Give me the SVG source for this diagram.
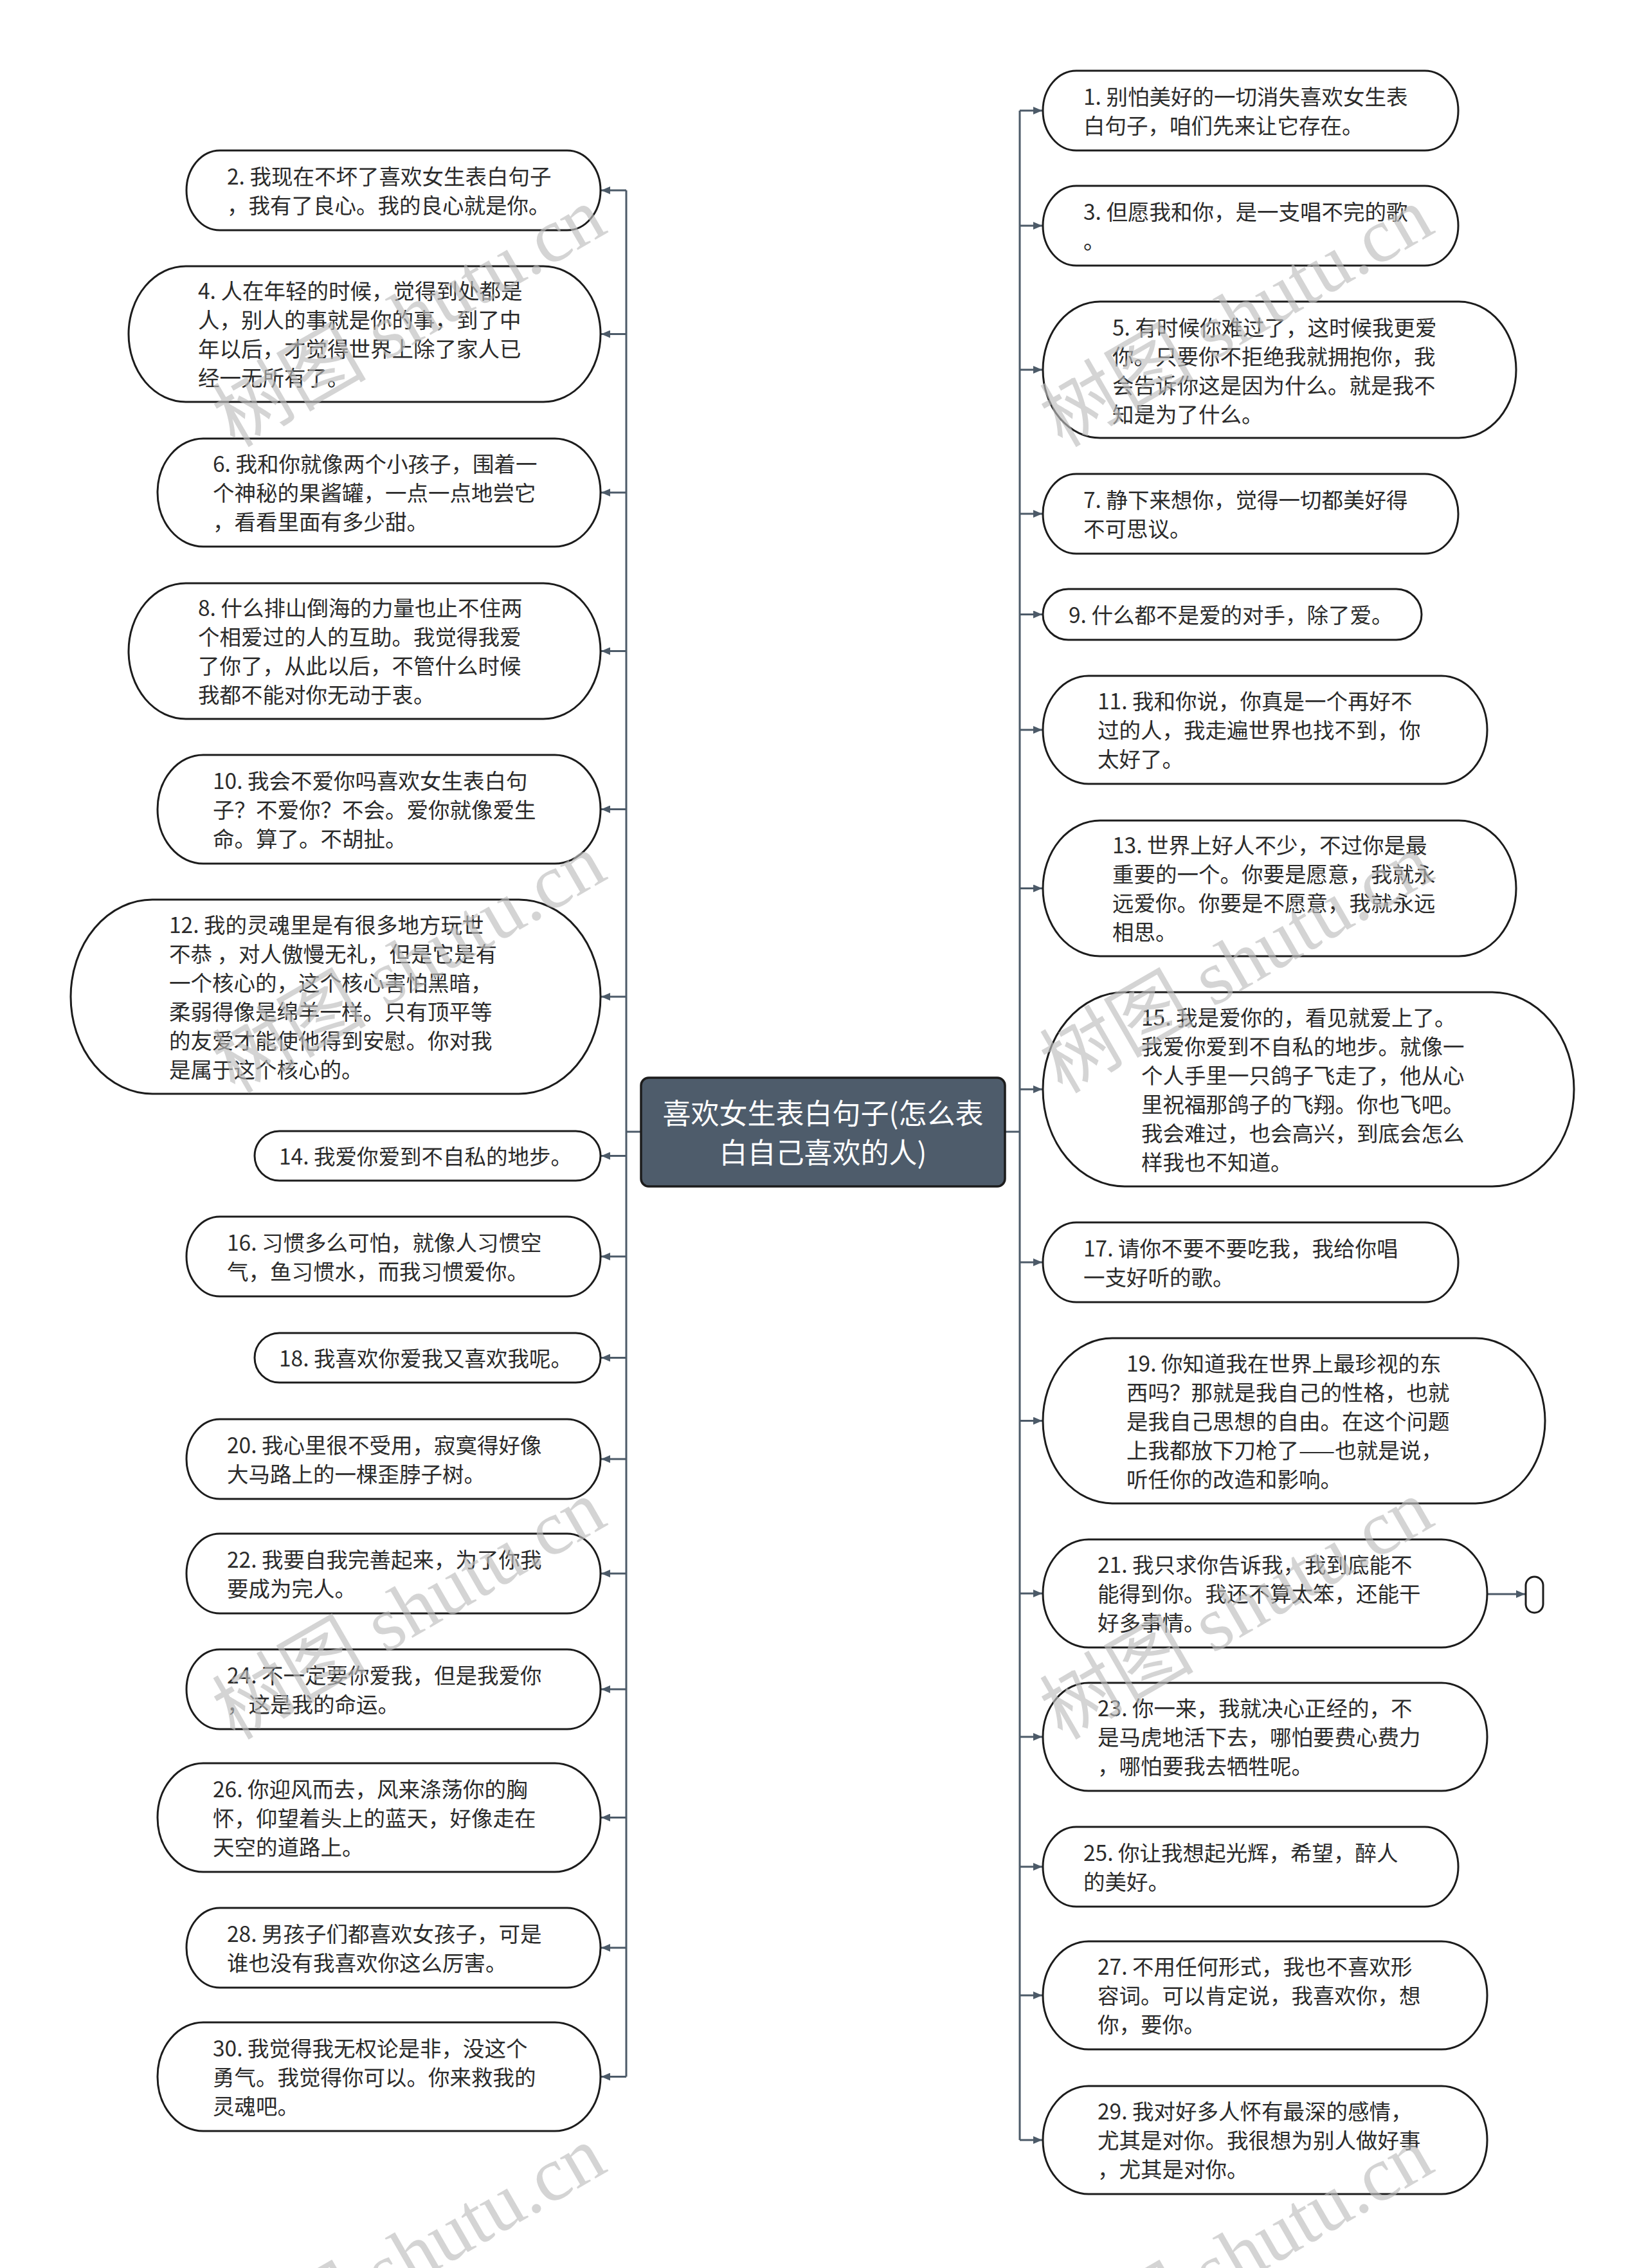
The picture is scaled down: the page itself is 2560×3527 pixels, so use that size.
<svg xmlns="http://www.w3.org/2000/svg" width="2560" height="3527" viewBox="0 0 2560 3527">
<style>
.node{fill:#ffffff;stroke:#1c1c1c;stroke-width:3}
.root{fill:#4e5c6b;stroke:#1c1c1c;stroke-width:3.5}
.t{font-family:"Noto Sans CJK SC","Noto Sans",sans-serif;font-size:33.5px;fill:#2b2b2b}
.rt{font-family:"Noto Sans CJK SC","Noto Sans",sans-serif;font-size:44px;fill:#ffffff;text-anchor:middle}
.c{stroke:#4c5a68;stroke-width:3;fill:none}
.a{stroke:#4c5a68;stroke-width:3;fill:none;marker-end:url(#arr)}
.wm{font-family:"Liberation Serif","Noto Sans CJK SC",serif;font-size:120px;fill:#bdbdbd;fill-opacity:0.65;text-anchor:end}
</style>
<defs>
<marker id="arr" markerUnits="userSpaceOnUse" markerWidth="14" markerHeight="12" refX="14" refY="6" orient="auto">
<path d="M0,0 L14,6 L0,12 z" fill="#4c5a68"/>
</marker>
</defs>
<rect x="0" y="0" width="2560" height="3527" fill="#ffffff"/>

<g id="connectors">
<line class="c" x1="997" y1="1760" x2="974" y2="1760"/>
<line class="c" x1="974" y1="296" x2="974" y2="3229.5"/>
<line class="a" x1="974" y1="296" x2="935" y2="296"/>
<line class="a" x1="974" y1="519.5" x2="935" y2="519.5"/>
<line class="a" x1="974" y1="766" x2="935" y2="766"/>
<line class="a" x1="974" y1="1012.5" x2="935" y2="1012.5"/>
<line class="a" x1="974" y1="1258.5" x2="935" y2="1258.5"/>
<line class="a" x1="974" y1="1550" x2="935" y2="1550"/>
<line class="a" x1="974" y1="1797.5" x2="935" y2="1797.5"/>
<line class="a" x1="974" y1="1954" x2="935" y2="1954"/>
<line class="a" x1="974" y1="2111.5" x2="935" y2="2111.5"/>
<line class="a" x1="974" y1="2269" x2="935" y2="2269"/>
<line class="a" x1="974" y1="2447" x2="935" y2="2447"/>
<line class="a" x1="974" y1="2627" x2="935" y2="2627"/>
<line class="a" x1="974" y1="2826.5" x2="935" y2="2826.5"/>
<line class="a" x1="974" y1="3029" x2="935" y2="3029"/>
<line class="a" x1="974" y1="3229.5" x2="935" y2="3229.5"/>
<line class="c" x1="1563" y1="1760" x2="1586" y2="1760"/>
<line class="c" x1="1586" y1="172" x2="1586" y2="3328"/>
<line class="a" x1="1586" y1="172" x2="1621" y2="172"/>
<line class="a" x1="1586" y1="351" x2="1621" y2="351"/>
<line class="a" x1="1586" y1="575" x2="1621" y2="575"/>
<line class="a" x1="1586" y1="799" x2="1621" y2="799"/>
<line class="a" x1="1586" y1="955.5" x2="1621" y2="955.5"/>
<line class="a" x1="1586" y1="1135" x2="1621" y2="1135"/>
<line class="a" x1="1586" y1="1381.5" x2="1621" y2="1381.5"/>
<line class="a" x1="1586" y1="1694" x2="1621" y2="1694"/>
<line class="a" x1="1586" y1="1963" x2="1621" y2="1963"/>
<line class="a" x1="1586" y1="2209.5" x2="1621" y2="2209.5"/>
<line class="a" x1="1586" y1="2478" x2="1621" y2="2478"/>
<line class="a" x1="1586" y1="2701" x2="1621" y2="2701"/>
<line class="a" x1="1586" y1="2903" x2="1621" y2="2903"/>
<line class="a" x1="1586" y1="3103" x2="1621" y2="3103"/>
<line class="a" x1="1586" y1="3328" x2="1621" y2="3328"/>
<line class="a" x1="2313" y1="2479" x2="2372" y2="2479"/>
</g>

<g id="root">
<rect class="root" x="997" y="1676" width="566" height="169" rx="12" ry="12"/>
<text class="rt"><tspan x="1280" y="1748">喜欢女生表白句子(怎么表</tspan><tspan x="1280" y="1809">白自己喜欢的人)</tspan></text>
</g>

<g id="n2"><rect class="node" x="290" y="234" width="644" height="124" rx="52" ry="62"/>
<text class="t"><tspan x="353" y="286.5">2. 我现在不坏了喜欢女生表白句子</tspan><tspan x="353" y="331.5">，我有了良心。我的良心就是你。</tspan></text></g>
<g id="n4"><rect class="node" x="200" y="414" width="734" height="211" rx="89" ry="105.5"/>
<text class="t"><tspan x="308" y="465">4. 人在年轻的时候，觉得到处都是</tspan><tspan x="308" y="510">人，别人的事就是你的事，到了中</tspan><tspan x="308" y="555">年以后，才觉得世界上除了家人已</tspan><tspan x="308" y="600">经一无所有了。</tspan></text></g>
<g id="n6"><rect class="node" x="245" y="682" width="689" height="168" rx="71" ry="84"/>
<text class="t"><tspan x="331" y="734">6. 我和你就像两个小孩子，围着一</tspan><tspan x="331" y="779">个神秘的果酱罐，一点一点地尝它</tspan><tspan x="331" y="824">，看看里面有多少甜。</tspan></text></g>
<g id="n8"><rect class="node" x="200" y="907" width="734" height="211" rx="89" ry="105.5"/>
<text class="t"><tspan x="308" y="958">8. 什么排山倒海的力量也止不住两</tspan><tspan x="308" y="1003">个相爱过的人的互助。我觉得我爱</tspan><tspan x="308" y="1048">了你了，从此以后，不管什么时候</tspan><tspan x="308" y="1093">我都不能对你无动于衷。</tspan></text></g>
<g id="n10"><rect class="node" x="245" y="1174" width="689" height="169" rx="71" ry="84.5"/>
<text class="t"><tspan x="331" y="1226.5">10. 我会不爱你吗喜欢女生表白句</tspan><tspan x="331" y="1271.5">子？不爱你？不会。爱你就像爱生</tspan><tspan x="331" y="1316.5">命。算了。不胡扯。</tspan></text></g>
<g id="n12"><rect class="node" x="110" y="1399" width="824" height="302" rx="127" ry="151"/>
<text class="t"><tspan x="263" y="1450.5">12. 我的灵魂里是有很多地方玩世</tspan><tspan x="263" y="1495.5">不恭 ，对人傲慢无礼，但是它是有</tspan><tspan x="263" y="1540.5">一个核心的，这个核心害怕黑暗，</tspan><tspan x="263" y="1585.5">柔弱得像是绵羊一样。只有顶平等</tspan><tspan x="263" y="1630.5">的友爱才能使他得到安慰。你对我</tspan><tspan x="263" y="1675.5">是属于这个核心的。</tspan></text></g>
<g id="n14"><rect class="node" x="396" y="1759" width="538" height="77" rx="38.5" ry="38.5"/>
<text class="t"><tspan x="434" y="1810.5">14. 我爱你爱到不自私的地步。</tspan></text></g>
<g id="n16"><rect class="node" x="290" y="1892" width="644" height="124" rx="52" ry="62"/>
<text class="t"><tspan x="353" y="1944.5">16. 习惯多么可怕，就像人习惯空</tspan><tspan x="353" y="1989.5">气，鱼习惯水，而我习惯爱你。</tspan></text></g>
<g id="n18"><rect class="node" x="396" y="2073" width="538" height="77" rx="38.5" ry="38.5"/>
<text class="t"><tspan x="434" y="2124.5">18. 我喜欢你爱我又喜欢我呢。</tspan></text></g>
<g id="n20"><rect class="node" x="290" y="2207" width="644" height="124" rx="52" ry="62"/>
<text class="t"><tspan x="353" y="2259.5">20. 我心里很不受用，寂寞得好像</tspan><tspan x="353" y="2304.5">大马路上的一棵歪脖子树。</tspan></text></g>
<g id="n22"><rect class="node" x="290" y="2385" width="644" height="124" rx="52" ry="62"/>
<text class="t"><tspan x="353" y="2437.5">22. 我要自我完善起来，为了你我</tspan><tspan x="353" y="2482.5">要成为完人。</tspan></text></g>
<g id="n24"><rect class="node" x="290" y="2565" width="644" height="124" rx="52" ry="62"/>
<text class="t"><tspan x="353" y="2617.5">24. 不一定要你爱我，但是我爱你</tspan><tspan x="353" y="2662.5">，这是我的命运。</tspan></text></g>
<g id="n26"><rect class="node" x="245" y="2742" width="689" height="169" rx="71" ry="84.5"/>
<text class="t"><tspan x="331" y="2794.5">26. 你迎风而去，风来涤荡你的胸</tspan><tspan x="331" y="2839.5">怀，仰望着头上的蓝天，好像走在</tspan><tspan x="331" y="2884.5">天空的道路上。</tspan></text></g>
<g id="n28"><rect class="node" x="290" y="2967" width="644" height="124" rx="52" ry="62"/>
<text class="t"><tspan x="353" y="3019.5">28. 男孩子们都喜欢女孩子，可是</tspan><tspan x="353" y="3064.5">谁也没有我喜欢你这么厉害。</tspan></text></g>
<g id="n30"><rect class="node" x="245" y="3145" width="689" height="169" rx="71" ry="84.5"/>
<text class="t"><tspan x="331" y="3197.5">30. 我觉得我无权论是非，没这个</tspan><tspan x="331" y="3242.5">勇气。我觉得你可以。你来救我的</tspan><tspan x="331" y="3287.5">灵魂吧。</tspan></text></g>

<g id="n1"><rect class="node" x="1622" y="110" width="646" height="124" rx="52" ry="62"/>
<text class="t"><tspan x="1685" y="162.5">1. 别怕美好的一切消失喜欢女生表</tspan><tspan x="1685" y="207.5">白句子，咱们先来让它存在。</tspan></text></g>
<g id="n3"><rect class="node" x="1622" y="289" width="646" height="124" rx="52" ry="62"/>
<text class="t"><tspan x="1685" y="341.5">3. 但愿我和你，是一支唱不完的歌</tspan><tspan x="1685" y="386.5">。</tspan></text></g>
<g id="n5"><rect class="node" x="1622" y="469" width="736" height="212" rx="89" ry="106"/>
<text class="t"><tspan x="1730" y="521.5">5. 有时候你难过了，这时候我更爱</tspan><tspan x="1730" y="566.5">你。只要你不拒绝我就拥抱你，我</tspan><tspan x="1730" y="611.5">会告诉你这是因为什么。就是我不</tspan><tspan x="1730" y="656.5">知是为了什么。</tspan></text></g>
<g id="n7"><rect class="node" x="1622" y="737" width="646" height="124" rx="52" ry="62"/>
<text class="t"><tspan x="1685" y="789.5">7. 静下来想你，觉得一切都美好得</tspan><tspan x="1685" y="834.5">不可思议。</tspan></text></g>
<g id="n9"><rect class="node" x="1622" y="916" width="589" height="79" rx="39.5" ry="39.5"/>
<text class="t"><tspan x="1662" y="968.5">9. 什么都不是爱的对手，除了爱。</tspan></text></g>
<g id="n11"><rect class="node" x="1622" y="1051" width="691" height="168" rx="71" ry="84"/>
<text class="t"><tspan x="1707" y="1103">11. 我和你说，你真是一个再好不</tspan><tspan x="1707" y="1148">过的人，我走遍世界也找不到，你</tspan><tspan x="1707" y="1193">太好了。</tspan></text></g>
<g id="n13"><rect class="node" x="1622" y="1276" width="736" height="211" rx="89" ry="105.5"/>
<text class="t"><tspan x="1730" y="1327">13. 世界上好人不少，不过你是最</tspan><tspan x="1730" y="1372">重要的一个。你要是愿意，我就永</tspan><tspan x="1730" y="1417">远爱你。你要是不愿意，我就永远</tspan><tspan x="1730" y="1462">相思。</tspan></text></g>
<g id="n15"><rect class="node" x="1622" y="1543" width="826" height="302" rx="127" ry="151"/>
<text class="t"><tspan x="1775" y="1594.5">15. 我是爱你的，看见就爱上了。</tspan><tspan x="1775" y="1639.5">我爱你爱到不自私的地步。就像一</tspan><tspan x="1775" y="1684.5">个人手里一只鸽子飞走了，他从心</tspan><tspan x="1775" y="1729.5">里祝福那鸽子的飞翔。你也飞吧。</tspan><tspan x="1775" y="1774.5">我会难过，也会高兴，到底会怎么</tspan><tspan x="1775" y="1819.5">样我也不知道。</tspan></text></g>
<g id="n17"><rect class="node" x="1622" y="1901" width="646" height="124" rx="52" ry="62"/>
<text class="t"><tspan x="1685" y="1953.5">17. 请你不要不要吃我，我给你唱</tspan><tspan x="1685" y="1998.5">一支好听的歌。</tspan></text></g>
<g id="n19"><rect class="node" x="1622" y="2081" width="781" height="257" rx="108" ry="128.5"/>
<text class="t"><tspan x="1752" y="2132.5">19. 你知道我在世界上最珍视的东</tspan><tspan x="1752" y="2177.5">西吗？那就是我自己的性格，也就</tspan><tspan x="1752" y="2222.5">是我自己思想的自由。在这个问题</tspan><tspan x="1752" y="2267.5">上我都放下刀枪了——也就是说，</tspan><tspan x="1752" y="2312.5">听任你的改造和影响。</tspan></text></g>
<g id="n21"><rect class="node" x="1622" y="2394" width="691" height="168" rx="71" ry="84"/>
<text class="t"><tspan x="1707" y="2446">21. 我只求你告诉我，我到底能不</tspan><tspan x="1707" y="2491">能得到你。我还不算太笨，还能干</tspan><tspan x="1707" y="2536">好多事情。</tspan></text></g>
<g id="n21a"><rect class="node" x="2373" y="2452" width="27" height="56" rx="13.5" ry="13.5"/></g>
<g id="n23"><rect class="node" x="1622" y="2617" width="691" height="168" rx="71" ry="84"/>
<text class="t"><tspan x="1707" y="2669">23. 你一来，我就决心正经的，不</tspan><tspan x="1707" y="2714">是马虎地活下去，哪怕要费心费力</tspan><tspan x="1707" y="2759">，哪怕要我去牺牲呢。</tspan></text></g>
<g id="n25"><rect class="node" x="1622" y="2841" width="646" height="124" rx="52" ry="62"/>
<text class="t"><tspan x="1685" y="2893.5">25. 你让我想起光辉，希望，醉人</tspan><tspan x="1685" y="2938.5">的美好。</tspan></text></g>
<g id="n27"><rect class="node" x="1622" y="3019" width="691" height="168" rx="71" ry="84"/>
<text class="t"><tspan x="1707" y="3071">27. 不用任何形式，我也不喜欢形</tspan><tspan x="1707" y="3116">容词。可以肯定说，我喜欢你，想</tspan><tspan x="1707" y="3161">你，要你。</tspan></text></g>
<g id="n29"><rect class="node" x="1622" y="3244" width="691" height="168" rx="71" ry="84"/>
<text class="t"><tspan x="1707" y="3296">29. 我对好多人怀有最深的感情，</tspan><tspan x="1707" y="3341">尤其是对你。我很想为别人做好事</tspan><tspan x="1707" y="3386">，尤其是对你。</tspan></text></g>

<g id="watermark">
<text class="wm" transform="translate(948,360) rotate(-30)">树图 shutu.cn</text>
<text class="wm" transform="translate(2235,360) rotate(-30)">树图 shutu.cn</text>
<text class="wm" transform="translate(948,1365) rotate(-30)">树图 shutu.cn</text>
<text class="wm" transform="translate(2235,1365) rotate(-30)">树图 shutu.cn</text>
<text class="wm" transform="translate(948,2370) rotate(-30)">树图 shutu.cn</text>
<text class="wm" transform="translate(2235,2370) rotate(-30)">树图 shutu.cn</text>
<text class="wm" transform="translate(948,3375) rotate(-30)">树图 shutu.cn</text>
<text class="wm" transform="translate(2235,3375) rotate(-30)">树图 shutu.cn</text>
</g>
</svg>
